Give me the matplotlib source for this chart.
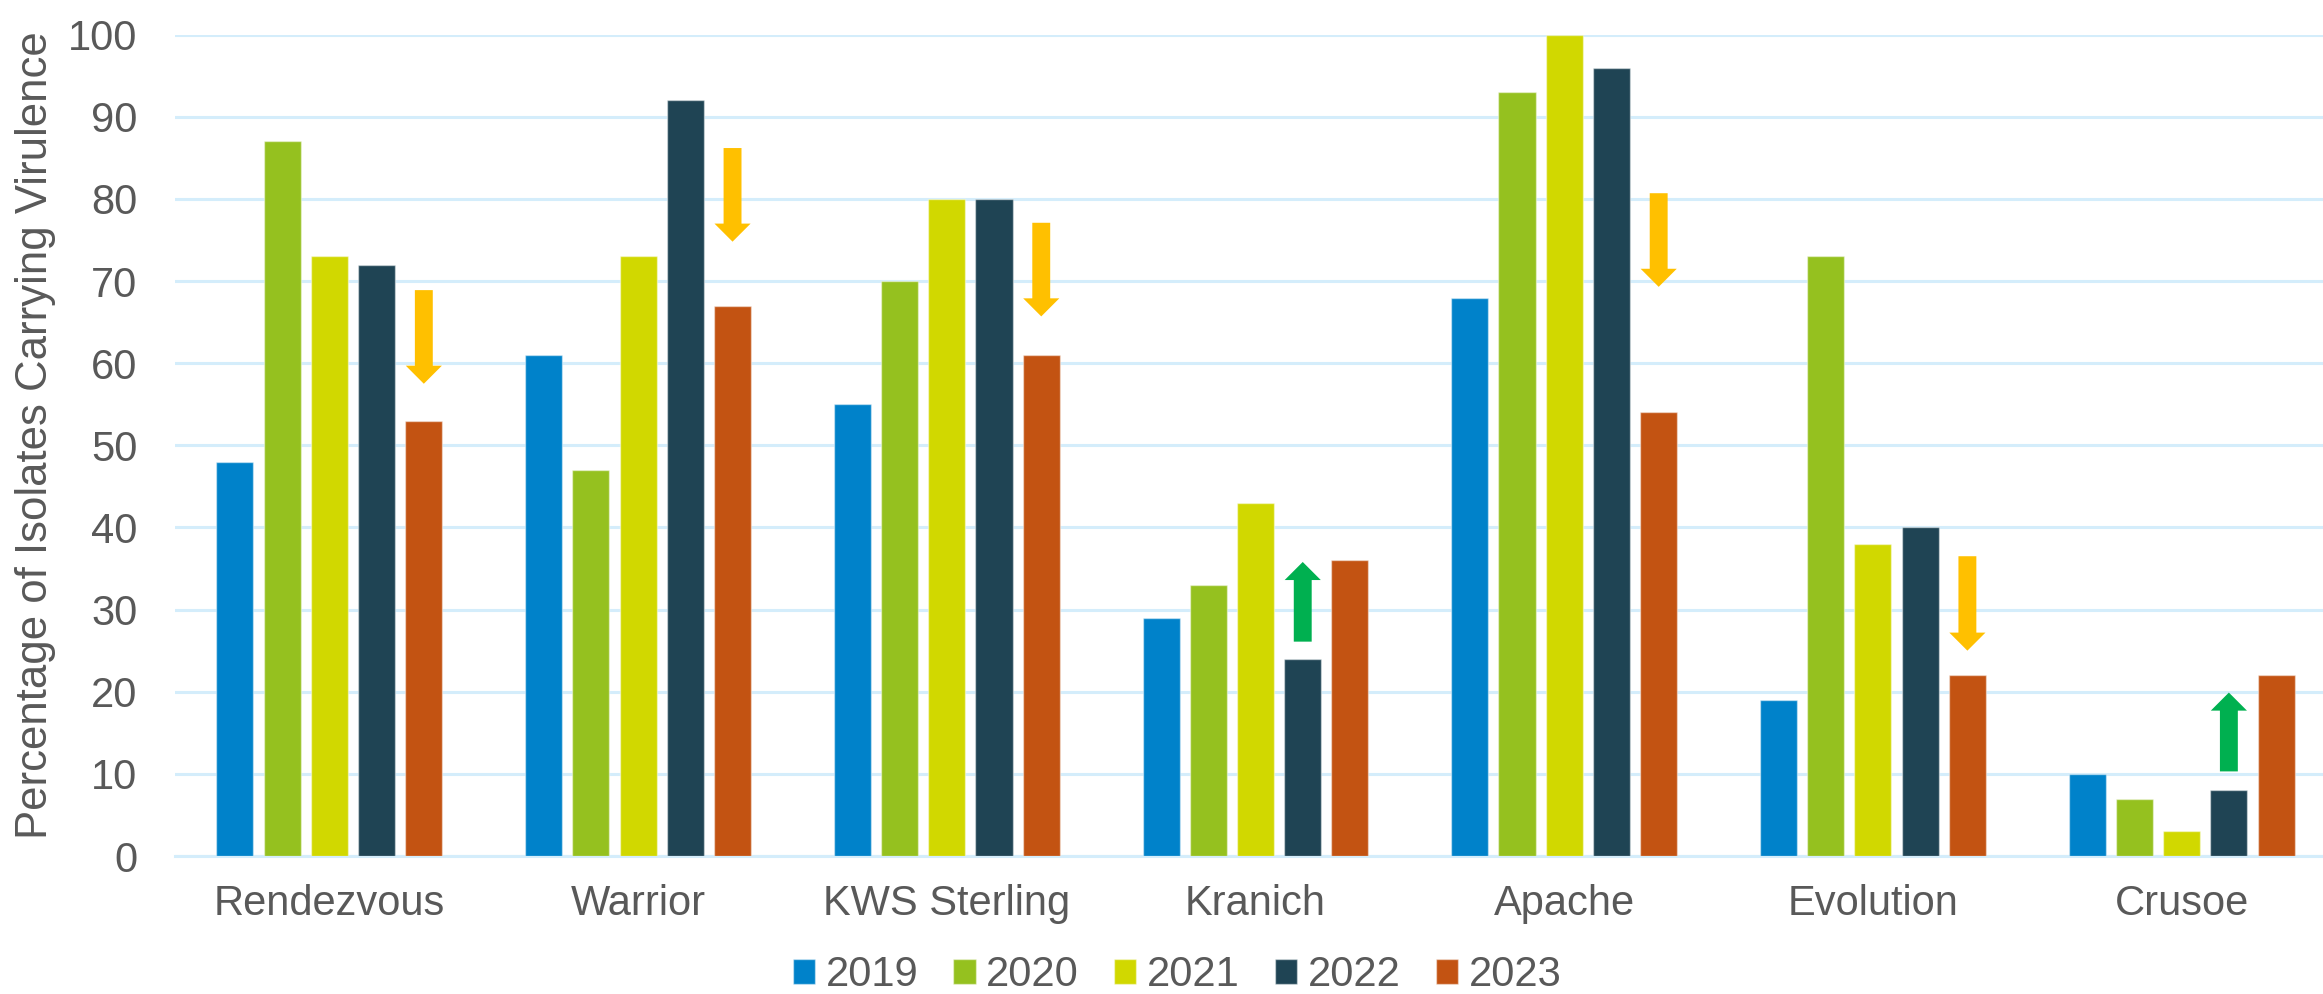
import matplotlib
matplotlib.use("Agg")
import matplotlib.pyplot as plt
from matplotlib.patches import FancyArrow
import numpy as np

plt.rcParams['font.family'] = ['Liberation Sans', 'DejaVu Sans']

varieties = ["Rendezvous", "Warrior", "KWS Sterling", "Kranich", "Apache", "Evolution", "Crusoe"]
years = ["2019", "2020", "2021", "2022", "2023"]

pct_2019 = [48, 61, 55, 29, 68, 19, 10]
pct_2020 = [87, 47, 70, 33, 93, 73, 7]
pct_2021 = [73, 73, 80, 43, 100, 38, 3]
pct_2022 = [72, 92, 80, 24, 96, 40, 8]
pct_2023 = [53, 67, 61, 36, 54, 22, 22]
series = [pct_2019, pct_2020, pct_2021, pct_2022, pct_2023]

bar_colors = ["#0082CA", "#95C11F", "#D1D800", "#1F4454", "#C35312"]

# Trend arrows: (variety index, year index the arrow sits over, start value, tip value)
trend_arrows = [
    (0, 4, 68.9, 57.5),
    (1, 4, 86.2, 74.8),
    (2, 4, 77.1, 65.7),
    (3, 3, 26.1, 35.8),
    (4, 4, 80.7, 69.3),
    (5, 4, 36.5, 25.0),
    (6, 3, 10.3, 19.9),
]
down_color = "#FFC000"
up_color = "#00B050"

text_color = "#595959"
grid_color = "#D4EDFB"

W, H = 2323, 994
fig = plt.figure(figsize=(W / 100, H / 100), dpi=100)
left_px, right_px = 175, 2336
top_px, bottom_px = 34.7, 856
ax = fig.add_axes([left_px / W, 1 - bottom_px / H,
                   (right_px - left_px) / W, (bottom_px - top_px) / H])

pitch = 0.153
width = 0.12
x = np.arange(len(varieties))
for j, (vals, col, yr) in enumerate(zip(series, bar_colors, years)):
    ax.bar(x + (j - 2) * pitch, vals, width=width, color=col, label=yr,
           edgecolor=(1, 1, 1, 0.45), linewidth=1.0, zorder=3)

for vi, yi, y0, y1 in trend_arrows:
    xc = vi + (yi - 2) * pitch
    col = up_color if y1 > y0 else down_color
    ax.add_patch(FancyArrow(xc, y0, 0, y1 - y0, width=0.058, head_width=0.117,
                            head_length=2.2, length_includes_head=True,
                            color=col, linewidth=0, zorder=4))

ax.set_xlim(-0.5, len(varieties) - 0.5)
ax.set_ylim(0, 100)
ax.set_yticks(np.arange(0, 101, 10))
ax.set_xticks(x)
ax.set_xticklabels(varieties)
ax.yaxis.grid(True, color=grid_color, linewidth=2.2, zorder=0)
ax.set_axisbelow(True)
for s in ["top", "right", "left"]:
    ax.spines[s].set_visible(False)
ax.spines["bottom"].set_color(grid_color)
ax.spines["bottom"].set_linewidth(2.2)
ax.tick_params(axis="both", length=0, colors=text_color, labelsize=30)
ax.tick_params(axis="y", pad=27)
ax.tick_params(axis="x", pad=20)

fig.text(36 / W, 1 - 435 / H, "Percentage of Isolates Carrying Virulence",
         rotation=90, ha="center", va="center", fontsize=31.5, color=text_color)

leg = fig.legend(loc="center", bbox_to_anchor=(1177 / W, 1 - 975 / H), ncol=5,
                 frameon=False, fontsize=30, handlelength=0.53, handleheight=0.53,
                 handletextpad=0.26, columnspacing=0.84, borderpad=0, borderaxespad=0)
for t in leg.get_texts():
    t.set_color(text_color)

fig.savefig("out.png", dpi=100)
